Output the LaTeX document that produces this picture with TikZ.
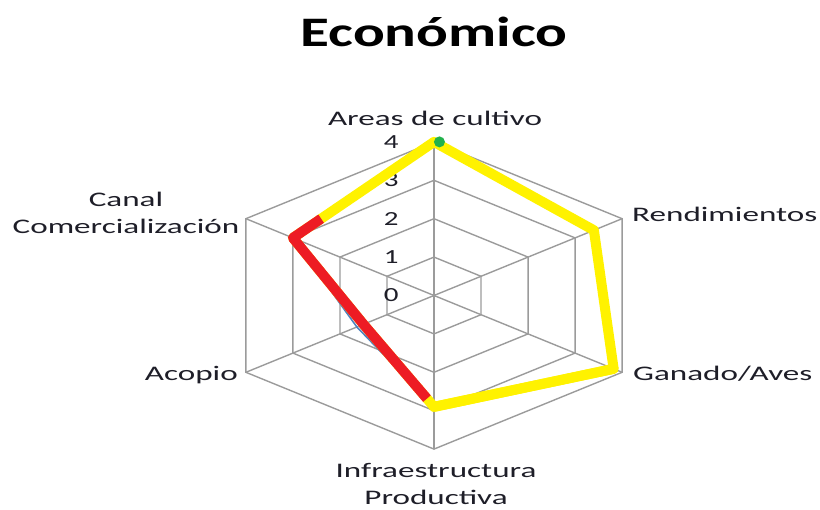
\documentclass[tikz,border=0pt]{standalone}
\usepackage{fontspec}
\setmainfont{Carlito}
\definecolor{gridgray}{RGB}{155,155,155}
\definecolor{serieyellow}{RGB}{255,242,0}
\definecolor{seriered}{RGB}{237,28,36}
\definecolor{serieblue}{RGB}{79,129,189}
\definecolor{seriegreen}{RGB}{34,177,76}
\definecolor{labeltext}{RGB}{30,30,40}
\newcommand{\stretchtxt}[2][1.6]{\scalebox{#1}[1]{#2}}

\begin{document}
\begin{tikzpicture}[x=1pt,y=1pt,yscale=-1,
		axislabel/.style={inner sep=0pt, text=labeltext, font=\fontsize{20.7}{27}\selectfont},
		ticklabel/.style={inner sep=0pt, text=labeltext, font=\fontsize{20}{24}\selectfont},
		gridline/.style={draw=gridgray, line width=1.4pt},
		serieline/.style={line width=10pt, line join=round, line cap=round}]
		\useasboundingbox (0,0) rectangle (820,510);

		% Title
		\node[anchor=base, inner sep=0pt, text=black, font=\fontsize{42}{48}\selectfont\bfseries] (title) at (434,47) {\stretchtxt[1.41]{Económico}};

		% Axis labels
		\node[axislabel, anchor=base] (areas) at (435,126) {\stretchtxt{Areas de cultivo}};
		\node[axislabel, anchor=base west] (rend) at (632,222) {\stretchtxt{Rendimientos}};
		\node[axislabel, anchor=base west] (ganado) at (633,380.5) {\stretchtxt{Ganado/Aves}};
		\node[axislabel, anchor=base] (infra) at (436,478) {\stretchtxt{\begin{tabular}[t]{@{}c@{}}Infraestructura\\Productiva\end{tabular}}};
		\node[axislabel, anchor=base east] (acopio) at (238,381) {\stretchtxt{Acopio}};
		\node[axislabel, anchor=base] (canal) at (126,207) {\stretchtxt{\begin{tabular}[t]{@{}c@{}}Canal\\Comercialización\end{tabular}}};

		% Radar grid, ticks and series
		\begin{scope}[shift={(434,295.5)}, x=54.3pt, y=-38.4pt]
			\foreach \r in {1,...,4}
				\draw[gridline] (90:\r) -- (30:\r) -- (-30:\r) -- (-90:\r) -- (210:\r) -- (150:\r) -- cycle;
			\foreach \a in {90,30,-30,-90,210,150}
				\draw[gridline] (0,0) -- (\a:4);

			% Scale 0 to 4, left of the vertical axis
			\foreach \v in {0,...,4}
				\node[ticklabel] (tick\v) at (-0.79,\v) {\stretchtxt[1.45]{\v}};

			% Blue series, almost hidden under the red one
			\draw[serieblue, line width=1.6pt, line join=round] (150:3) -- (210:1.64) -- (-90:2.9);

			% Yellow series
			\draw[serieline, serieyellow] (90:4) -- (30:3.4) -- (-30:3.82) -- (-90:2.9) -- (210:1.5) -- (150:3) -- cycle;

			% Red series
			\coordinate (redstart) at (-2.078,2.0);
			\coordinate (redend) at (-0.13,-2.685);
			\draw[serieline, seriered, line cap=butt] (redstart) -- (150:3) -- (210:1.5) -- (redend);
			\draw[serieline, serieyellow] (-90:2.9) -- (-30:3.82);

			% Green marker at the top
			\fill[seriegreen] (0.1,4) circle (5.5pt);
		\end{scope}
	\end{tikzpicture}
\end{document}
